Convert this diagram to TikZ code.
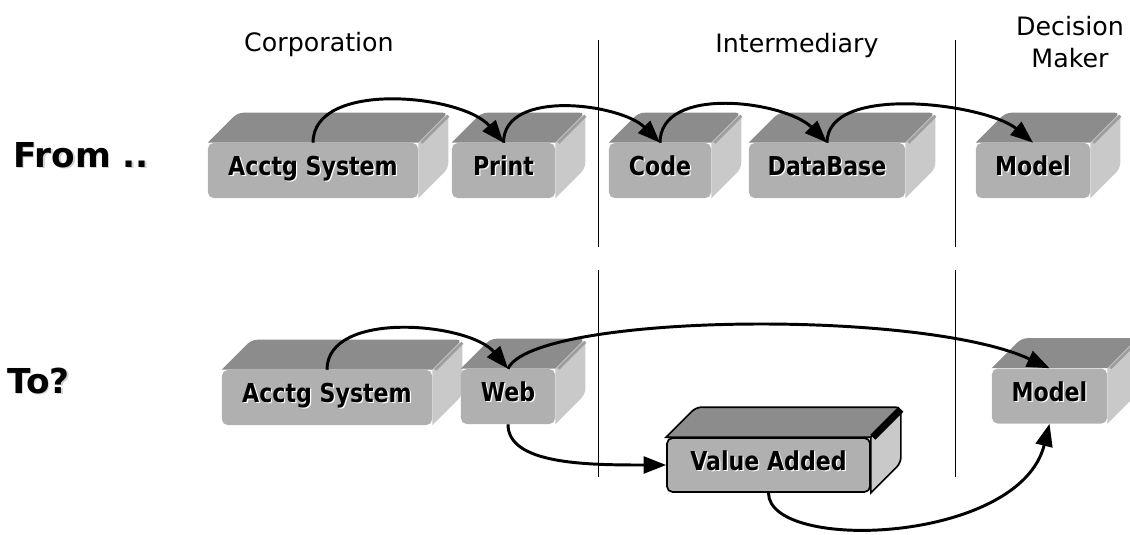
\documentclass[tikz,border=0pt]{standalone}
\usepackage{fontspec}
\setmainfont{DejaVu Sans}
\newfontfamily\slabfont{DejaVu Sans}[FakeStretch=0.85]
\usetikzlibrary{arrows.meta,backgrounds}

\definecolor{slabfront}{gray}{0.69}
\definecolor{slabtop}{gray}{0.55}
\definecolor{slabside}{gray}{0.79}
\definecolor{slabedge}{gray}{0.62}

% text with a shadow copy behind it
\newcommand{\embossed}[3][0.9pt]{\leavevmode\rlap{\kern#1\raisebox{-#1}{\color{#2}#3}}#3}
% top and side of a slab, behind its front node
\newcommand{\slabfaces}[2][]{%
  \begin{scope}[on background layer]
    \path[fill=slabtop,#1] (#2.north west) [rounded corners=4pt] -- ++(30,-30) -- ([shift={(30,-30)}]#2.north east) [sharp corners] -- (#2.north east) -- cycle;
    \path[fill=slabside,#1] (#2.north east) [rounded corners=4pt] -- ++(30,-30) -- ([shift={(30,-30)}]#2.south east) [sharp corners] -- (#2.south east) -- cycle;
    \draw[slabedge,line width=2pt] ([shift={(3,0)}]#2.north east) -- ++(27,-27);
  \end{scope}}

\begin{document}
\begin{tikzpicture}[x=0.025cm,y=-0.025cm,
    slab/.style={fill=slabfront,rounded corners=4pt,minimum height=1.375cm,inner sep=0pt,
      font=\slabfont\bfseries\fontsize{18.5}{20}\selectfont,text height=0.72em,text depth=0pt},
    header/.style={inner sep=0pt,font=\fontsize{18}{22.8}\selectfont,align=center},
    rowlabel/.style={inner sep=0pt,anchor=west,font=\bfseries\fontsize{24.4}{26}\selectfont,text height=0.73em,text depth=0pt},
    link/.style={line width=2.1pt,-{Triangle[length=16pt,width=12pt]}},
    divider/.style={line width=0.7pt}]
                    \useasboundingbox (0,0) rectangle (1130,534);
                    \foreach \x in {598,955} {
                        \draw[divider] (\x,40) -- (\x,247) (\x,270) -- (\x,477);
                    }
                    \node[header] (corp) at (319,45) {Corporation};
                    \node[header] (inter) at (797,46) {Intermediary};
                    \node[header] (decider) at (1070,42) {Decision\\Maker};
                    \node[rowlabel] (from) at (13,162) {\embossed[1.1pt]{gray!35}{From ..}};
                    \node[rowlabel] (to) at (7,388) {\embossed[1.1pt]{gray!35}{To?}};
                    % from ..
                    \node[slab,minimum width=5.25cm] (acctgA) at (313,170.5) {\embossed{white}{Acctg System}};
                    \node[slab,minimum width=2.575cm] (print) at (503.5,170.5) {\embossed{white}{Print}};
                    \node[slab,minimum width=2.55cm] (code) at (660,170.5) {\embossed{white}{Code}};
                    \node[slab,minimum width=3.9cm] (database) at (827,170.5) {\embossed{white}{DataBase}};
                    \node[slab,minimum width=2.85cm] (modelA) at (1033,170.5) {\embossed{white}{Model}};
                    % to?
                    \node[slab,minimum width=5.25cm] (acctgB) at (327,397.5) {\embossed{white}{Acctg System}};
                    \node[slab,minimum width=2.35cm] (web) at (508,396.5) {\embossed{white}{Web}};
                    \node[slab,minimum width=2.875cm] (modelB) at (1049.5,396) {\embossed{white}{Model}};
                    \node[slab,minimum width=5.075cm,minimum height=1.35cm,draw=black,line width=1.2pt] (value) at (768.5,465) {\embossed{white}{Value Added}};
                    \foreach \s in {acctgA,print,code,database,modelA,acctgB,web,modelB} {\slabfaces{\s}}
                    \slabfaces[draw=black,line width=1.2pt]{value}
                    \begin{scope}[on background layer]
                        \draw[line width=5pt] ([shift={(2,0)}]value.north east) -- ++(28,-28);%bevel
                    \end{scope}
                    % connectors
                    \draw[link] (acctgA.north) to[out=90,in=130,looseness=0.85] (print.north);
                    \draw[link] (print.north) to[out=90,in=135,looseness=0.9] (code.north);
                    \draw[link] (code.north) to[out=90,in=135,looseness=0.9] (database.north);
                    \draw[link] (database.north) to[out=90,in=140,looseness=0.75] (modelA.north);
                    \draw[link] (acctgB.north) to[out=90,in=130,looseness=0.85] (web.north);
                    \draw[link] (web.north) .. controls +(25,-55) and +(-130,-60) .. (modelB.north);
                    \draw[link] (web.south) .. controls +(0,40) and +(-80,0) .. (value.west);
                    \draw[link] (value.south) .. controls +(0,60) and +(-30,120) .. (modelB.south);
                \end{tikzpicture}
\end{document}
